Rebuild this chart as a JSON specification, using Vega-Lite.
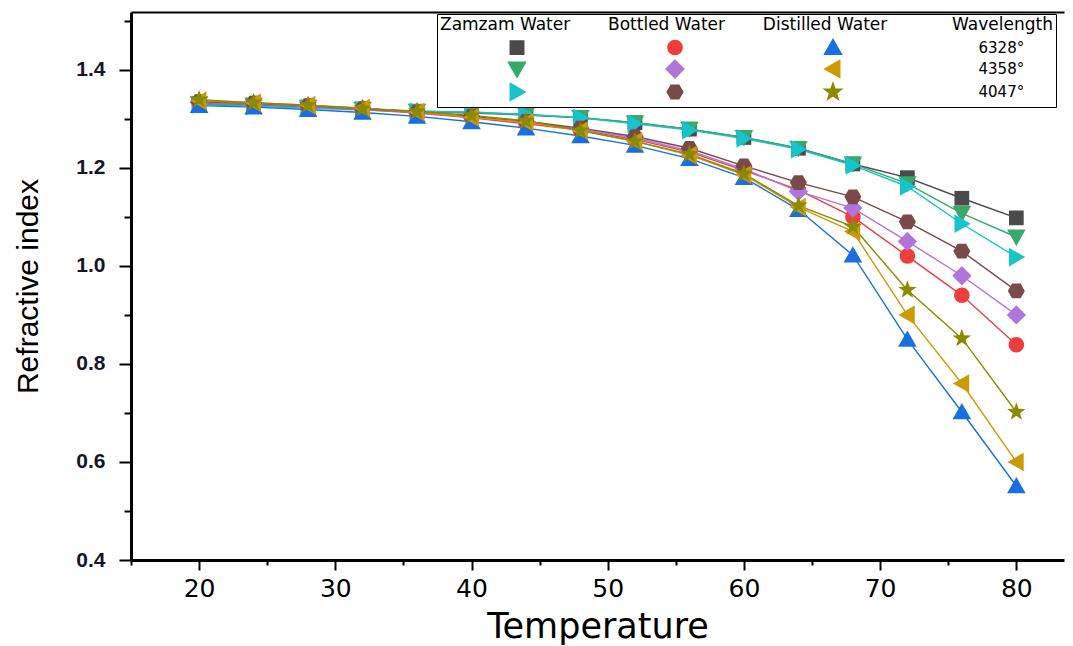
{
  "$schema": "https://vega.github.io/schema/vega-lite/v6.json",
  "width": 933,
  "height": 548,
  "autosize": {"type": "none"},
  "padding": {"left": 131, "top": 12, "right": 9, "bottom": 86},
  "background": "white",
  "config": {
    "view": {"stroke": null},
    "legend": {
      "orient": "none",
      "legendX": 306,
      "legendY": 2,
      "columns": 3,
      "gridAlign": "each",
      "titleFont": "DejaVu Sans",
      "titleFontSize": 17,
      "titleFontWeight": "normal",
      "titleColor": "black",
      "titlePadding": 5,
      "titleLimit": 1000,
      "labelFont": "DejaVu Sans",
      "labelFontSize": 15,
      "labelColor": "black",
      "labelOffset": 4,
      "labelLimit": 400,
      "symbolSize": 200,
      "symbolOffset": 69,
      "columnPadding": 69,
      "rowPadding": -1,
      "strokeColor": "black",
      "fillColor": "white",
      "padding": 3,
      "cornerRadius": 0
    }
  },
  "data": {
    "values": [
      {"t": 20, "Zamzam Water 6328": 1.330, "Zamzam Water 4358": 1.331, "Zamzam Water 4047": 1.329, "Bottled Water 6328": 1.333, "Bottled Water 4358": 1.334, "Bottled Water 4047": 1.335, "Distilled Water 6328": 1.327, "Distilled Water 4358": 1.337, "Distilled Water 4047": 1.339},
      {"t": 24, "Zamzam Water 6328": 1.327, "Zamzam Water 4358": 1.328, "Zamzam Water 4047": 1.326, "Bottled Water 6328": 1.330, "Bottled Water 4358": 1.331, "Bottled Water 4047": 1.332, "Distilled Water 6328": 1.324, "Distilled Water 4358": 1.333, "Distilled Water 4047": 1.333},
      {"t": 28, "Zamzam Water 6328": 1.323, "Zamzam Water 4358": 1.324, "Zamzam Water 4047": 1.322, "Bottled Water 6328": 1.325, "Bottled Water 4358": 1.326, "Bottled Water 4047": 1.327, "Distilled Water 6328": 1.319, "Distilled Water 4358": 1.328, "Distilled Water 4047": 1.328},
      {"t": 32, "Zamzam Water 6328": 1.319, "Zamzam Water 4358": 1.320, "Zamzam Water 4047": 1.318, "Bottled Water 6328": 1.319, "Bottled Water 4358": 1.320, "Bottled Water 4047": 1.321, "Distilled Water 6328": 1.313, "Distilled Water 4358": 1.322, "Distilled Water 4047": 1.321},
      {"t": 36, "Zamzam Water 6328": 1.315, "Zamzam Water 4358": 1.316, "Zamzam Water 4047": 1.315, "Bottled Water 6328": 1.312, "Bottled Water 4358": 1.313, "Bottled Water 4047": 1.314, "Distilled Water 6328": 1.305, "Distilled Water 4358": 1.314, "Distilled Water 4047": 1.315},
      {"t": 40, "Zamzam Water 6328": 1.312, "Zamzam Water 4358": 1.313, "Zamzam Water 4047": 1.314, "Bottled Water 6328": 1.302, "Bottled Water 4358": 1.304, "Bottled Water 4047": 1.305, "Distilled Water 6328": 1.294, "Distilled Water 4358": 1.303, "Distilled Water 4047": 1.307},
      {"t": 44, "Zamzam Water 6328": 1.308, "Zamzam Water 4358": 1.309, "Zamzam Water 4047": 1.309, "Bottled Water 6328": 1.290, "Bottled Water 4358": 1.293, "Bottled Water 4047": 1.295, "Distilled Water 6328": 1.281, "Distilled Water 4358": 1.293, "Distilled Water 4047": 1.296},
      {"t": 48, "Zamzam Water 6328": 1.302, "Zamzam Water 4358": 1.303, "Zamzam Water 4047": 1.302, "Bottled Water 6328": 1.277, "Bottled Water 4358": 1.279, "Bottled Water 4047": 1.281, "Distilled Water 6328": 1.265, "Distilled Water 4358": 1.276, "Distilled Water 4047": 1.276},
      {"t": 52, "Zamzam Water 6328": 1.292, "Zamzam Water 4358": 1.292, "Zamzam Water 4047": 1.290, "Bottled Water 6328": 1.258, "Bottled Water 4358": 1.261, "Bottled Water 4047": 1.264, "Distilled Water 6328": 1.246, "Distilled Water 4358": 1.254, "Distilled Water 4047": 1.254},
      {"t": 56, "Zamzam Water 6328": 1.279, "Zamzam Water 4358": 1.279, "Zamzam Water 4047": 1.277, "Bottled Water 6328": 1.232, "Bottled Water 4358": 1.235, "Bottled Water 4047": 1.240, "Distilled Water 6328": 1.219, "Distilled Water 4358": 1.226, "Distilled Water 4047": 1.228},
      {"t": 60, "Zamzam Water 6328": 1.262, "Zamzam Water 4358": 1.262, "Zamzam Water 4047": 1.260, "Bottled Water 6328": 1.195, "Bottled Water 4358": 1.198, "Bottled Water 4047": 1.204, "Distilled Water 6328": 1.180, "Distilled Water 4358": 1.186, "Distilled Water 4047": 1.188},
      {"t": 64, "Zamzam Water 6328": 1.240, "Zamzam Water 4358": 1.240, "Zamzam Water 4047": 1.238, "Bottled Water 6328": 1.155, "Bottled Water 4358": 1.152, "Bottled Water 4047": 1.170, "Distilled Water 6328": 1.115, "Distilled Water 4358": 1.120, "Distilled Water 4047": 1.123},
      {"t": 68, "Zamzam Water 6328": 1.208, "Zamzam Water 4358": 1.208, "Zamzam Water 4047": 1.205, "Bottled Water 6328": 1.100, "Bottled Water 4358": 1.118, "Bottled Water 4047": 1.141, "Distilled Water 6328": 1.022, "Distilled Water 4358": 1.070, "Distilled Water 4047": 1.080},
      {"t": 72, "Zamzam Water 6328": 1.180, "Zamzam Water 4358": 1.168, "Zamzam Water 4047": 1.162, "Bottled Water 6328": 1.020, "Bottled Water 4358": 1.050, "Bottled Water 4047": 1.090, "Distilled Water 6328": 0.850, "Distilled Water 4358": 0.900, "Distilled Water 4047": 0.951},
      {"t": 76, "Zamzam Water 6328": 1.138, "Zamzam Water 4358": 1.107, "Zamzam Water 4047": 1.086, "Bottled Water 6328": 0.940, "Bottled Water 4358": 0.980, "Bottled Water 4047": 1.030, "Distilled Water 6328": 0.702, "Distilled Water 4358": 0.760, "Distilled Water 4047": 0.852},
      {"t": 80, "Zamzam Water 6328": 1.098, "Zamzam Water 4358": 1.059, "Zamzam Water 4047": 1.018, "Bottled Water 6328": 0.839, "Bottled Water 4358": 0.900, "Bottled Water 4047": 0.949, "Distilled Water 6328": 0.551, "Distilled Water 4358": 0.600, "Distilled Water 4047": 0.702}
    ]
  },
  "transform": [
    {"fold": ["Zamzam Water 6328", "Zamzam Water 4358", "Zamzam Water 4047", "Bottled Water 6328", "Bottled Water 4358", "Bottled Water 4047", "Distilled Water 6328", "Distilled Water 4358", "Distilled Water 4047"], "as": ["series", "v"]}
  ],
  "encoding": {
    "y": {
      "field": "v",
      "type": "quantitative",
      "scale": {"domain": [0.4, 1.518], "nice": false, "zero": false},
      "axis": {
        "title": "Refractive index",
        "values": [0.4, 0.5, 0.6, 0.7, 0.8, 0.9, 1.0, 1.1, 1.2, 1.3, 1.4, 1.5],
        "labelExpr": "round(datum.value*10)%2===0 ? format(datum.value,'.1f') : ''",
        "tickSize": {"condition": {"test": "round(datum.value*10)%2===0", "value": 12}, "value": 7},
        "tickWidth": 2,
        "tickColor": "black",
        "domainColor": "black",
        "domainWidth": 3,
        "labelFont": "Liberation Sans",
        "labelFontSize": 21,
        "labelFontWeight": "bold",
        "labelColor": "#15152a",
        "labelPadding": 14,
        "titleFont": "Liberation Sans",
        "titleFontSize": 30,
        "titleFontWeight": "normal",
        "titleColor": "black",
        "titlePadding": 32,
        "grid": false
      }
    },
    "color": {
      "field": "series",
      "type": "nominal",
      "scale": {
        "domain": ["Zamzam Water 6328", "Zamzam Water 4358", "Zamzam Water 4047", "Bottled Water 6328", "Bottled Water 4358", "Bottled Water 4047", "Distilled Water 6328", "Distilled Water 4358", "Distilled Water 4047"],
        "range": ["#4a4a4a", "#36a96b", "#17c4c9", "#ef3d3d", "#b075db", "#7a4a4a", "#1a6fe0", "#cc9a06", "#8a8a00"]
      },
      "legend": {
        "title": "Zamzam Water\u00a0\u00a0\u00a0\u00a0\u00a0\u00a0\u00a0Bottled Water\u00a0\u00a0\u00a0\u00a0\u00a0\u00a0\u00a0Distilled Water\u00a0\u00a0\u00a0\u00a0\u00a0\u00a0\u00a0\u00a0\u00a0\u00a0\u00a0\u00a0Wavelength\u00a0\u00a0\u00a0\u00a0",
        "labelExpr": "indexof(datum.value,'Distilled')===0 ? '\u200b\u00a0\u00a0\u00a0\u00a0\u00a0\u00a0\u00a0\u00a0\u00a0\u00a0\u00a0\u00a0\u00a0\u00a0\u00a0\u00a0\u00a0\u00a0\u00a0\u00a0\u00a0\u00a0\u00a0\u00a0\u00a0\u00a0\u00a0\u00a0' + replace(datum.value,'Distilled Water ','') + '°' : ''"
      }
    }
  },
  "layer": [
    {
      "mark": {"type": "line", "strokeWidth": 1.4},
      "encoding": {
        "x": {
          "field": "t",
          "type": "quantitative",
          "scale": {"domain": [15, 83.5], "nice": false, "zero": false},
          "axis": {
            "orient": "bottom",
            "title": "Temperature",
            "values": [15, 20, 25, 30, 35, 40, 45, 50, 55, 60, 65, 70, 75, 80],
            "labelExpr": "datum.value % 10 === 0 ? datum.label : ''",
            "tickSize": {"condition": {"test": "datum.value % 10 === 0", "value": 10}, "value": 5},
            "tickWidth": 2,
            "tickColor": "black",
            "domainColor": "black",
            "domainWidth": 3,
            "labelFont": "DejaVu Sans",
            "labelFontSize": 25,
            "labelColor": "black",
            "labelPadding": 6,
            "titleFont": "DejaVu Sans",
            "titleFontSize": 35,
            "titleFontWeight": "normal",
            "titleColor": "black",
            "titlePadding": 8,
            "grid": false
          }
        }
      }
    },
    {
      "mark": {"type": "point", "filled": true, "size": 240, "opacity": 1},
      "encoding": {
        "x": {
          "field": "t",
          "type": "quantitative",
          "scale": {"domain": [15, 83.5], "nice": false, "zero": false},
          "axis": {"orient": "top", "title": null, "labels": false, "ticks": false, "domainColor": "black", "domainWidth": 2, "grid": false}
        },
        "shape": {
          "field": "series",
          "type": "nominal",
          "scale": {
            "domain": ["Zamzam Water 6328", "Zamzam Water 4358", "Zamzam Water 4047", "Bottled Water 6328", "Bottled Water 4358", "Bottled Water 4047", "Distilled Water 6328", "Distilled Water 4358", "Distilled Water 4047"],
            "range": [
              "M-0.95,-0.95H0.95V0.95H-0.95Z",
              "M-1.2,-0.95H1.2L0,1.15Z",
              "M-0.95,-1.2L1.15,0L-0.95,1.2Z",
              "M-1,0A1,1,0,1,1,1,0A1,1,0,1,1,-1,0Z",
              "M0,-1.25L1.25,0L0,1.25L-1.25,0Z",
              "M-1.1,0L-0.55,-0.95H0.55L1.1,0L0.55,0.95H-0.55Z",
              "M0,-1.15L1.2,0.95H-1.2Z",
              "M0.95,-1.2L-1.15,0L0.95,1.2Z",
              "M0,-1.25L0.294,-0.405L1.189,-0.386L0.476,0.155L0.735,1.011L0,0.5L-0.735,1.011L-0.476,0.155L-1.189,-0.386L-0.294,-0.405Z"
            ]
          },
          "legend": {
            "title": "Zamzam Water\u00a0\u00a0\u00a0\u00a0\u00a0\u00a0\u00a0Bottled Water\u00a0\u00a0\u00a0\u00a0\u00a0\u00a0\u00a0Distilled Water\u00a0\u00a0\u00a0\u00a0\u00a0\u00a0\u00a0\u00a0\u00a0\u00a0\u00a0\u00a0Wavelength\u00a0\u00a0\u00a0\u00a0",
            "labelExpr": "indexof(datum.value,'Distilled')===0 ? '\u200b\u00a0\u00a0\u00a0\u00a0\u00a0\u00a0\u00a0\u00a0\u00a0\u00a0\u00a0\u00a0\u00a0\u00a0\u00a0\u00a0\u00a0\u00a0\u00a0\u00a0\u00a0\u00a0\u00a0\u00a0\u00a0\u00a0\u00a0\u00a0' + replace(datum.value,'Distilled Water ','') + '°' : ''"
          }
        }
      }
    }
  ],
  "resolve": {"axis": {"x": "independent"}}
}
